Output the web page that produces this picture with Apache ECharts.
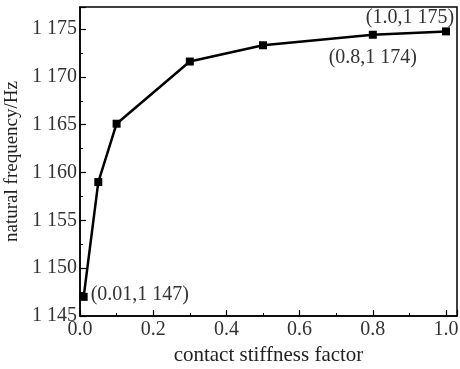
<!DOCTYPE html>
<html>
<head>
<meta charset="utf-8">
<script src="https://cdn.jsdelivr.net/npm/echarts@6/dist/echarts.min.js"></script>
<style>html,body{margin:0;padding:0;background:#fff;}#c{width:460px;height:369px;}</style>
</head>
<body>
<div id="c"></div>
<script>
const stiffness = [0.01, 0.05, 0.1, 0.3, 0.5, 0.8, 1.0];
const frequency = [1147, 1159, 1165.1, 1171.6, 1173.3, 1174.4, 1174.75];
const annotations = ['(0.01,1 147)', '', '', '', '', '(0.8,1 174)', '(1.0,1 175)'];
const xTicks = ['0.0', '0.2', '0.4', '0.6', '0.8', '1.0'];

const FONT = "'Liberation Serif', 'Times New Roman', serif";
const fmtThousands = v => String(v).replace(/\B(?=(\d{3})+(?!\d))/g, ' ');

const labelCfg = [
  {show: true, position: 'right', distance: 3, offset: [0, -2]},
  null, null, null, null,
  {show: true, position: 'bottom', distance: 9},
  {show: true, position: 'top', distance: 2, offset: [-36, 2]}
];

const data = stiffness.map((x, i) => {
  const d = {value: [x, frequency[i]]};
  if (labelCfg[i]) d.label = Object.assign({formatter: annotations[i]}, labelCfg[i]);
  return d;
});

const chart = echarts.init(document.getElementById('c'));
chart.setOption({
  animation: false,
  backgroundColor: '#fff',
  textStyle: {fontFamily: FONT},
  grid: {left: 80, right: 3, top: 7, bottom: 53, show: true, borderColor: '#000', borderWidth: 1.5,
    backgroundColor: 'transparent', containLabel: false, outerBoundsMode: 'none'},
  xAxis: {
    type: 'value', min: 0, max: 1.03, interval: 0.2,
    name: 'contact stiffness factor', nameLocation: 'middle', nameGap: 25,
    nameTextStyle: {fontFamily: FONT, fontSize: 21, color: '#222'},
    axisLine: {show: true, lineStyle: {color: '#000', width: 1.5}},
    axisTick: {show: true, inside: true, length: 6, lineStyle: {color: '#000', width: 1.2}},
    minorTick: {show: true, splitNumber: 2, length: 3, lineStyle: {color: '#000', width: 1}},
    splitLine: {show: false},
    axisLabel: {fontFamily: FONT, fontSize: 20, color: '#333', margin: 4, showMaxLabel: false,
      formatter: v => { const i = Math.round(v / 0.2); return Math.abs(v - i * 0.2) < 1e-6 ? xTicks[i] : ''; }}
  },
  yAxis: {
    type: 'value', min: 1145, max: 1177.3, interval: 5,
    name: 'natural frequency/Hz', nameLocation: 'middle', nameGap: 52,
    nameTextStyle: {fontFamily: FONT, fontSize: 19, color: '#222'},
    axisLine: {show: true, lineStyle: {color: '#000', width: 1.5}},
    axisTick: {show: true, inside: true, length: 6, lineStyle: {color: '#000', width: 1.2}},
    minorTick: {show: true, splitNumber: 2, length: 3, lineStyle: {color: '#000', width: 1}},
    splitLine: {show: false},
    axisLabel: {fontFamily: FONT, fontSize: 20, color: '#333', margin: 3, showMaxLabel: false,
      formatter: v => (v % 5 === 0 ? fmtThousands(v) : '')}
  },
  series: [{
    type: 'line',
    data: data,
    symbol: 'rect', symbolSize: 8,
    lineStyle: {color: '#000', width: 2.5},
    itemStyle: {color: '#000'},
    label: {show: false, fontFamily: FONT, fontSize: 20, color: '#333'}
  }]
});
</script>
</body>
</html>
